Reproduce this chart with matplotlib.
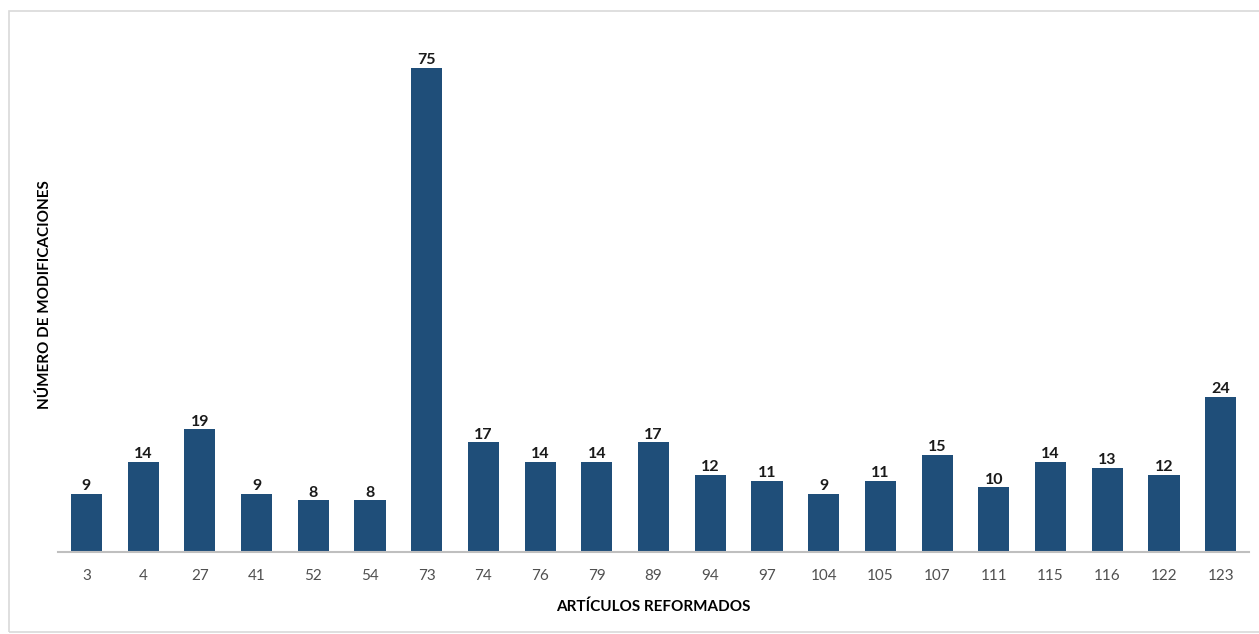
import matplotlib.pyplot as plt
from matplotlib.patches import Rectangle

# articulos y numero de modificaciones
articulos = ["3", "4", "27", "41", "52", "54", "73", "74", "76", "79", "89",
             "94", "97", "104", "105", "107", "111", "115", "116", "122", "123"]
modificaciones = [9, 14, 19, 9, 8, 8, 75, 17, 14, 14, 17,
                  12, 11, 9, 11, 15, 10, 14, 13, 12, 24]

plt.rcParams['font.family'] = ['Lato', 'DejaVu Sans']

fig = plt.figure(figsize=(12.59, 6.34), dpi=100)
ax = fig.add_axes([0.0461, 0.1293, 0.946, 0.815])

x = range(len(articulos))
barras = ax.bar(x, modificaciones, width=0.55, color="#1F4E79")

# etiquetas de valor encima de las barras
for b, v in zip(barras, modificaciones):
    ax.text(b.get_x() + b.get_width() / 2, v + 0.1, str(v), ha="center", va="bottom",
            fontsize=11.5, fontweight="bold", color="#1a1a1a")

ax.set_xlim(-0.5, len(articulos) - 0.5)
ax.set_ylim(0, 80)
ax.set_xticks(list(x))
ax.set_xticklabels(articulos, fontsize=11, color="#505050")
ax.tick_params(axis="x", length=0, pad=12)
ax.set_yticks([])
for s in ["top", "right", "left"]:
    ax.spines[s].set_visible(False)
ax.spines["bottom"].set_color("#BFBFBF")
ax.spines["bottom"].set_linewidth(1.5)

fig.text(0.5187, 0.043, "ARTÍCULOS REFORMADOS", ha="center", va="center",
         fontsize=11, fontweight="bold", color="#000000")
fig.text(0.0357, 0.535, "NÚMERO DE MODIFICACIONES", ha="center", va="center",
         rotation=90, fontsize=11, fontweight="bold", color="#000000")

# marco gris claro alrededor del grafico
fig.patches.append(Rectangle((9 / 1259, 2 / 634), 1.2, 621 / 634, transform=fig.transFigure,
                             fill=False, edgecolor="#D9D9D9", linewidth=1.2))

fig.savefig("out.png", dpi=100)
